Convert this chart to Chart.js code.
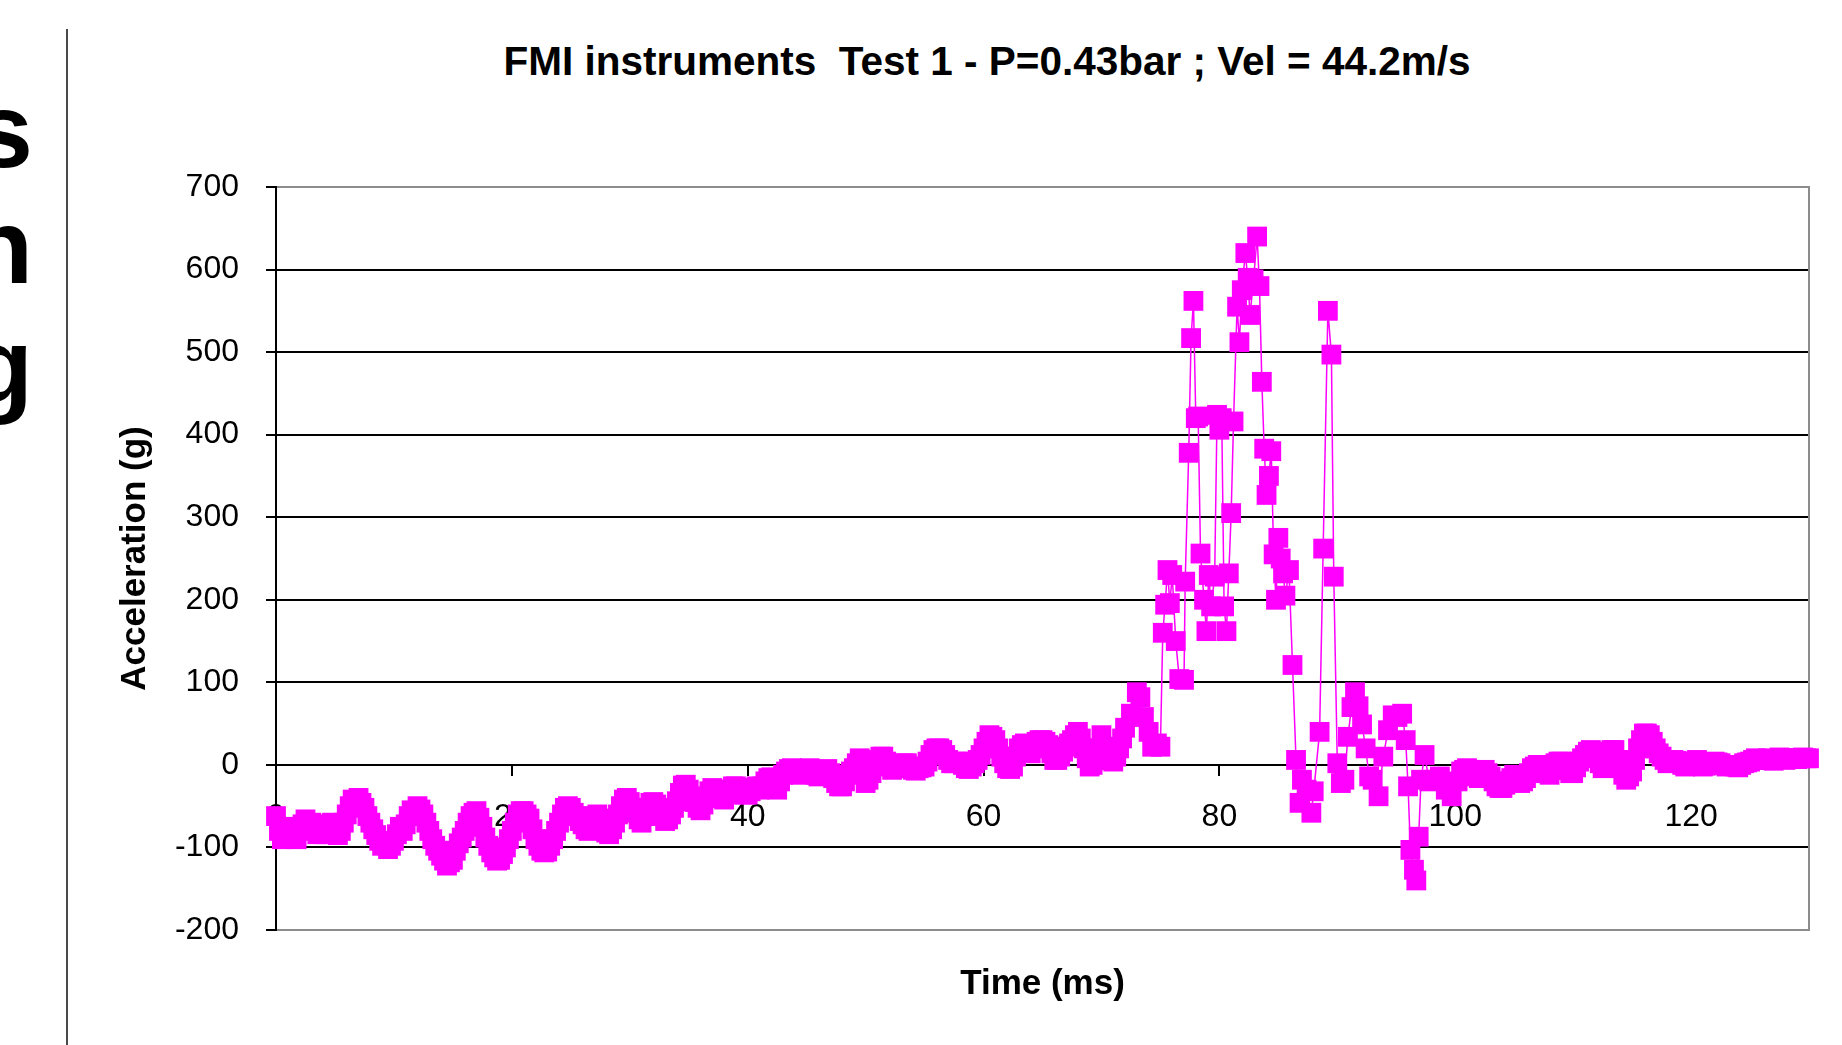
<!DOCTYPE html>
<html>
<head>
<meta charset="utf-8">
<script src="https://cdn.jsdelivr.net/npm/chart.js@4.4.1/dist/chart.umd.min.js"></script>
<style>
html,body{margin:0;padding:0;background:#fff;}
body{width:1842px;height:1045px;position:relative;overflow:hidden;font-family:'Liberation Sans',Arial,sans-serif;}
#chart{position:absolute;left:0;top:0;}
#title{position:absolute;left:0;width:1974px;top:37px;text-align:center;font-weight:bold;font-size:40.5px;line-height:48px;color:#000;white-space:pre;}
.rule{position:absolute;left:66px;top:29px;width:2px;height:1016px;background:#4a4a4a;}
.clip{position:absolute;left:0;top:0;width:33px;height:1045px;overflow:hidden;}
.clip div{position:absolute;right:0;font-weight:bold;font-size:106px;line-height:106px;color:#000;white-space:nowrap;}
</style>
</head>
<body>
<div class="clip">
  <div style="top:77px;">trials</div>
  <div style="top:193px;">tion</div>
  <div style="top:313px;">ing</div>
</div>
<div class="rule"></div>
<div id="title"></div>
<canvas id="chart" width="1842" height="1045"></canvas>
<script>
const chartTitle = 'FMI instruments  Test 1 - P=0.43bar ; Vel = 44.2m/s';
const xTitle = 'Time (ms)';
const yTitle = 'Acceleration (g)';
const xTicks = [0, 20, 40, 60, 80, 100, 120];
const yTicks = [-200, -100, 0, 100, 200, 300, 400, 500, 600, 700];

const timeMs = [
  0,0.25,0.5,0.75,1,1.25,1.5,1.75,
  2,2.25,2.5,2.75,3,3.25,3.5,3.75,
  4,4.25,4.5,4.75,5,5.25,5.5,5.75,
  6,6.25,6.5,6.75,7,7.25,7.5,7.75,
  8,8.25,8.5,8.75,9,9.25,9.5,9.75,
  10,10.25,10.5,10.75,11,11.25,11.5,11.75,
  12,12.25,12.5,12.75,13,13.25,13.5,13.75,
  14,14.25,14.5,14.75,15,15.25,15.5,15.75,
  16,16.25,16.5,16.75,17,17.25,17.5,17.75,
  18,18.25,18.5,18.75,19,19.25,19.5,19.75,
  20,20.25,20.5,20.75,21,21.25,21.5,21.75,
  22,22.25,22.5,22.75,23,23.25,23.5,23.75,
  24,24.25,24.5,24.75,25,25.25,25.5,25.75,
  26,26.25,26.5,26.75,27,27.25,27.5,27.75,
  28,28.25,28.5,28.75,29,29.25,29.5,29.75,
  30,30.25,30.5,30.75,31,31.25,31.5,31.75,
  32,32.25,32.5,32.75,33,33.25,33.5,33.75,
  34,34.25,34.5,34.75,35,35.25,35.5,35.75,
  36,36.25,36.5,36.75,37,37.25,37.5,37.75,
  38,38.25,38.5,38.75,39,39.25,39.5,39.75,
  40,40.25,40.5,40.75,41,41.25,41.5,41.75,
  42,42.25,42.5,42.75,43,43.25,43.5,43.75,
  44,44.25,44.5,44.75,45,45.25,45.5,45.75,
  46,46.25,46.5,46.75,47,47.25,47.5,47.75,
  48,48.25,48.5,48.75,49,49.25,49.5,49.75,
  50,50.25,50.5,50.75,51,51.25,51.5,51.75,
  52,52.25,52.5,52.75,53,53.25,53.5,53.75,
  54,54.25,54.5,54.75,55,55.25,55.5,55.75,
  56,56.25,56.5,56.75,57,57.25,57.5,57.75,
  58,58.25,58.5,58.75,59,59.25,59.5,59.75,
  60,60.25,60.5,60.75,61,61.25,61.5,61.75,
  62,62.25,62.5,62.75,63,63.25,63.5,63.75,
  64,64.25,64.5,64.75,65,65.25,65.5,65.75,
  66,66.25,66.5,66.75,67,67.25,67.5,67.75,
  68,68.25,68.5,68.75,69,69.25,69.5,69.75,
  70,70.25,70.5,70.75,71,71.25,71.5,71.75,
  72,
  72.5,73,73.3,73.6,74,74.3,74.7,
  75,75.2,75.4,75.6,75.8,76,76.3,76.6,77,77.1,77.4,77.6,77.8,78,78.2,78.4,78.7,78.9,
  79.1,79.3,79.6,79.8,80,80.2,80.4,80.6,80.8,81,81.2,81.5,81.7,81.9,82.2,82.4,82.6,82.9,
  83.2,83.4,83.6,83.8,84,84.2,84.4,84.6,84.8,85,85.2,85.4,85.6,85.9,86.2,86.5,86.8,87,
  87.4,87.8,88,88.5,88.8,89.2,89.5,89.7,90,90.3,90.6,90.9,91.2,91.5,91.8,92.1,92.4,92.7,
  93,93.5,93.9,94.3,94.7,95.1,95.5,95.8,96,96.2,96.5,96.7,96.9,97.1,97.4,97.8,98.2,98.7,
  99.2,99.7,100.2,
  100.5,100.75,
  101,101.25,101.5,101.75,102,102.25,102.5,102.75,
  103,103.25,103.5,103.75,104,104.25,104.5,104.75,
  105,105.25,105.5,105.75,106,106.25,106.5,106.75,
  107,107.25,107.5,107.75,108,108.25,108.5,108.75,
  109,109.25,109.5,109.75,110,110.25,110.5,110.75,
  111,111.25,111.5,111.75,112,112.25,112.5,112.75,
  113,113.25,113.5,113.75,114,114.25,114.5,114.75,
  115,115.25,115.5,115.75,116,116.25,116.5,116.75,
  117,117.25,117.5,117.75,118,118.25,118.5,118.75,
  119,119.25,119.5,119.75,120,120.25,120.5,120.75,
  121,121.25,121.5,121.75,122,122.25,122.5,122.75,
  123,123.25,123.5,123.75,124,124.25,124.5,124.75,
  125,125.25,125.5,125.75,126,126.25,126.5,126.75,
  127,127.25,127.5,127.75,128,128.25,128.5,128.75,
  129,129.25,129.5,129.75,130
];

const accelG = [
  -62,-80,-90,-84,-88,-80,-75,-90,
  -80,-72,-66,-78,-70,-78,-84,-76,
  -72,-84,-75,-70,-82,-85,-80,-70,
  -60,-50,-42,-48,-40,-46,-52,-62,
  -70,-78,-85,-92,-98,-96,-102,-98,
  -92,-84,-75,-80,-72,-62,-55,-58,
  -50,-54,-60,-70,-80,-90,-98,-104,
  -110,-116,-122,-118,-115,-104,-95,-88,
  -80,-70,-62,-58,-56,-64,-75,-88,
  -98,-106,-112,-116,-115,-108,-100,-90,
  -80,-70,-60,-56,-56,-60,-65,-78,
  -90,-98,-104,-106,-105,-98,-90,-80,
  -70,-60,-52,-50,-52,-58,-62,-68,
  -72,-78,-80,-70,-62,-60,-65,-74,
  -82,-84,-78,-70,-60,-50,-42,-40,
  -45,-52,-58,-66,-70,-62,-52,-46,
  -45,-48,-55,-62,-68,-66,-60,-52,
  -44,-34,-25,-24,-30,-38,-45,-52,
  -55,-48,-40,-32,-28,-30,-35,-40,
  -42,-36,-30,-26,-26,-30,-32,-36,
  -36,-32,-28,-26,-30,-26,-20,-16,
  -15,-22,-30,-20,-12,-8,-5,-4,
  -8,-10,-12,-8,-6,-4,-8,-12,
  -14,-10,-6,-5,-10,-16,-22,-26,
  -26,-20,-12,-8,-4,2,8,-8,
  -22,-18,-10,0,6,10,10,4,
  -2,-6,-4,-2,0,2,2,-2,
  -6,-7,-4,-3,-2,4,12,18,
  20,20,18,12,6,2,2,4,
  4,0,-4,-5,-2,2,6,12,
  20,28,36,34,30,20,10,2,
  -4,-5,-2,10,20,24,26,20,
  14,20,28,30,30,28,24,14,
  6,6,10,16,22,26,30,36,
  40,32,20,8,-2,0,6,20,
  36,22,10,6,4,10,20,32,
  45,
  62,88,82,58,40,22,26,
  22,160,194,236,196,230,150,104,103,222,378,517,562,420,422,256,200,162,
  230,192,228,424,406,420,192,162,232,305,416,555,512,575,620,590,545,588,
  640,580,464,383,327,350,380,255,200,275,250,232,205,236,121,6,-46,-18,
  -30,-58,-32,40,262,550,497,228,2,-22,-18,34,70,88,71,49,20,-14,
  -18,-38,10,42,60,58,62,30,-26,-103,-127,-140,-87,-18,12,-20,-18,-14,
  -30,-38,-20,
  -8,-6,
  -4,-6,-10,-14,-16,-10,-6,-10,
  -14,-20,-26,-28,-28,-24,-20,-16,
  -12,-16,-22,-20,-16,-10,-4,-2,
  0,-4,-8,-10,-12,-6,2,4,
  4,-2,-6,-10,-10,-3,4,8,
  12,16,18,14,10,2,-4,6,
  16,18,18,6,-4,-12,-18,-14,
  -8,6,20,30,38,38,36,28,
  20,14,10,6,2,4,6,5,
  4,0,-2,0,2,4,6,2,
  -2,-1,0,2,4,3,2,0,
  -2,-1,0,-2,-3,0,2,3,
  4,6,8,7,6,7,8,6,
  5,7,9,8,6,7,8,8,
  7,8,9,8,8
];

document.getElementById('title').textContent = chartTitle;

const FONT = "'Liberation Sans', Arial, sans-serif";
const points = timeMs.map((t, i) => ({x: t, y: accelG[i]}));

new Chart(document.getElementById('chart'), {
  type: 'line',
  data: {
    datasets: [{
      data: points,
      borderColor: '#FF00FF',
      borderWidth: 1.5,
      pointStyle: 'rect',
      pointRadius: 14,
      pointHoverRadius: 14,
      pointBackgroundColor: '#FF00FF',
      pointBorderColor: '#FF00FF',
      pointBorderWidth: 0,
      tension: 0,
      fill: false,
      clip: false
    }]
  },
  options: {
    responsive: false,
    animation: false,
    devicePixelRatio: 1,
    events: [],
    layout: {padding: {left: 114, right: 33, top: 187, bottom: 0}},
    plugins: {legend: {display: false}, title: {display: false}, tooltip: {enabled: false}},
    scales: {
      x: {
        type: 'linear', position: {y: 0}, min: 0, max: 130,
        afterBuildTicks: s => { s.ticks = xTicks.map(v => ({value: v})); },
        grid: {display: true, drawOnChartArea: false, drawTicks: true, tickLength: 10, color: '#000', lineWidth: 2},
        border: {display: true, color: '#000', width: 2},
        ticks: {font: {family: FONT, size: 32}, color: '#000', padding: 23, maxRotation: 0, autoSkip: false}
      },
      x2: {
        type: 'linear', position: 'bottom', min: 0, max: 130,
        afterFit: s => { s.height = 115; },
        ticks: {display: false}, grid: {display: false}, border: {display: false},
        title: {display: true, text: xTitle, font: {family: FONT, size: 35, weight: 'bold'}, color: '#000', padding: {top: 0, bottom: 40}}
      },
      y: {
        type: 'linear', position: 'left', min: -200, max: 700,
        afterBuildTicks: s => { s.ticks = yTicks.map(v => ({value: v})); },
        afterFit: s => { s.width = 162; },
        grid: {
          color: c => (c.tick && (c.tick.value === 700 || c.tick.value === -200)) ? '#8c8c8c' : '#000',
          lineWidth: 2, drawTicks: true, tickLength: 10, tickColor: '#000'
        },
        border: {display: true, color: '#000', width: 2},
        ticks: {font: {family: FONT, size: 32}, color: '#000', padding: 27},
        title: {display: true, text: yTitle, font: {family: FONT, size: 35, weight: 'bold'}, color: '#000', padding: {top: 0, bottom: 0}}
      },
      y2: {
        type: 'linear', position: 'right', min: -200, max: 700,
        afterFit: s => { s.width = 0; },
        ticks: {display: false}, grid: {display: false},
        border: {display: true, color: '#8c8c8c', width: 2}
      }
    }
  }
});
</script>
</body>
</html>
